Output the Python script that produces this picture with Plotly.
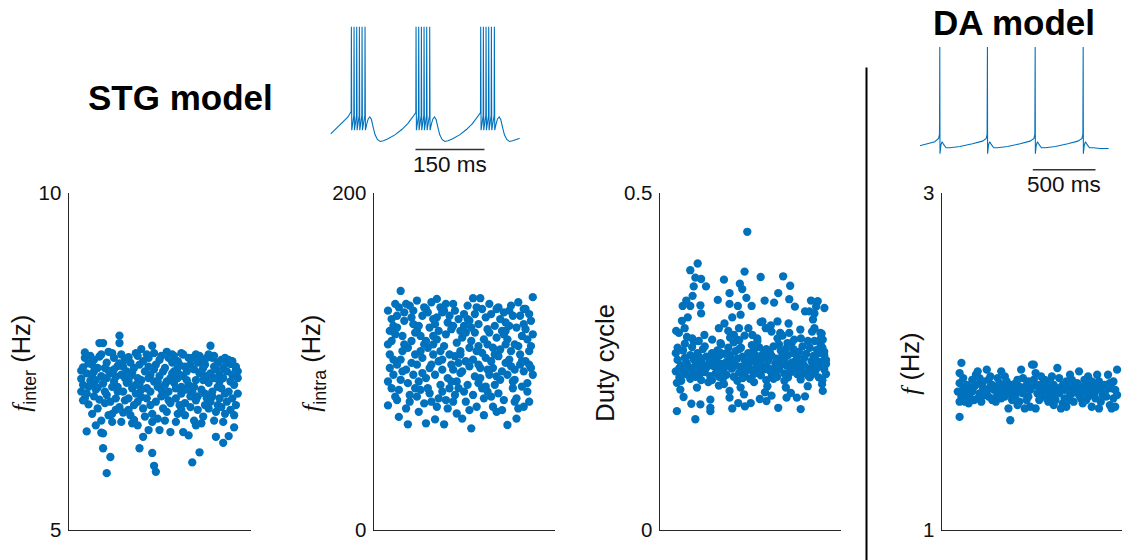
import plotly.graph_objects as go

W, H = 1130, 560

# ---------------- data ----------------
# STG model: inter-burst frequency (Hz)
stg_finter_pts = [
(0.07,7.24),(0.08,7.41),(0.07,7.05),(0.09,7.55),(0.10,7.32),(0.08,7.15),(0.11,7.47),(0.09,6.95),(0.12,7.21),(0.07,7.36),(0.10,7.02),(0.11,6.86),(0.10,6.46),(0.09,7.63),(0.12,7.58),(0.08,6.92),(0.11,7.12),
(0.13,7.30),(0.14,7.52),(0.15,7.08),(0.13,6.72),(0.16,7.40),(0.14,6.98),(0.15,7.22),(0.17,7.57),(0.16,6.80),(0.13,7.15),(0.17,7.77),(0.15,6.55),(0.14,7.35),(0.16,7.11),(0.17,6.93),(0.13,7.45),
(0.18,7.28),(0.19,6.43),(0.18,6.62),(0.19,7.77),(0.20,7.05),(0.21,7.48),(0.19,7.17),(0.21,5.84),(0.19,6.21),(0.22,7.36),(0.20,6.88),(0.18,7.60),(0.21,7.00),(0.22,6.70),(0.20,7.40),(0.18,6.44),(0.22,7.64),(0.21,7.25),
(0.23,6.08),(0.24,7.12),(0.25,7.55),(0.23,7.32),(0.26,6.95),(0.24,6.60),(0.25,7.20),(0.27,7.43),(0.26,6.78),(0.24,7.62),(0.23,6.90),(0.27,7.05),(0.25,7.38),(0.26,7.27),(0.24,6.72),
(0.28,7.88),(0.28,7.77),(0.29,7.30),(0.30,7.05),(0.31,7.52),(0.28,6.82),(0.29,6.60),(0.30,7.42),(0.32,7.18),(0.31,6.92),(0.29,7.60),(0.27,7.12),(0.30,6.74),(0.32,7.35),(0.31,7.25),(0.28,7.47),
(0.33,7.56),(0.34,6.70),(0.35,7.10),(0.33,6.95),(0.36,7.40),(0.34,7.28),(0.35,6.58),(0.37,7.62),(0.36,6.85),(0.33,7.20),(0.37,7.02),(0.34,7.48),(0.35,7.33),(0.36,6.63),(0.37,7.15),(0.33,6.78),
(0.38,7.25),(0.39,6.21),(0.38,6.55),(0.40,7.68),(0.41,6.38),(0.39,7.45),(0.40,7.08),(0.41,6.80),(0.42,7.35),(0.38,7.58),(0.40,6.97),(0.39,7.15),(0.41,7.50),(0.42,6.68),(0.40,7.22),(0.38,6.90),
(0.43,7.60),(0.44,6.48),(0.45,7.30),(0.46,6.14),(0.46,7.73),(0.43,7.10),(0.44,7.42),(0.45,6.85),(0.47,7.20),(0.46,6.60),(0.43,6.95),(0.44,7.55),(0.45,7.05),(0.47,7.38),(0.46,6.72),(0.44,7.25),
(0.47,5.95),(0.48,5.86),(0.48,7.45),(0.49,7.12),(0.50,6.48),(0.51,7.58),(0.48,6.90),(0.50,7.28),(0.49,6.65),(0.52,7.35),(0.51,6.98),(0.50,7.52),(0.49,7.20),(0.52,6.80),(0.47,7.62),(0.51,7.08),
(0.53,7.40),(0.54,7.64),(0.55,6.92),(0.56,6.45),(0.53,7.15),(0.55,7.55),(0.56,7.25),(0.54,6.75),(0.57,7.48),(0.53,6.62),(0.55,7.05),(0.57,7.32),(0.56,6.88),(0.54,7.20),(0.57,7.60),(0.53,7.00),
(0.58,7.58),(0.59,7.10),(0.60,6.72),(0.58,7.35),(0.61,7.45),(0.59,6.95),(0.60,7.25),(0.62,7.62),(0.61,6.85),(0.58,7.18),(0.62,7.02),(0.60,7.50),(0.59,6.60),(0.61,7.30),(0.62,6.78),(0.60,7.40),
(0.63,6.45),(0.64,7.42),(0.65,7.08),(0.66,6.40),(0.63,7.28),(0.64,6.88),(0.66,7.55),(0.65,7.35),(0.67,6.98),(0.63,7.60),(0.66,7.15),(0.64,6.70),(0.67,7.45),(0.65,7.22),(0.62,7.12),(0.67,6.82),
(0.68,6.00),(0.70,7.60),(0.69,7.38),(0.68,7.05),(0.70,6.92),(0.71,7.48),(0.69,6.62),(0.72,6.15),(0.70,7.22),(0.71,6.78),(0.72,7.32),(0.68,7.55),(0.69,7.12),(0.71,6.98),(0.72,7.58),(0.70,6.55),
(0.73,7.35),(0.74,7.52),(0.75,6.85),(0.73,7.08),(0.76,7.28),(0.74,6.68),(0.75,7.45),(0.77,7.60),(0.76,6.95),(0.73,6.58),(0.77,7.18),(0.74,7.40),(0.75,7.02),(0.76,7.55),(0.77,6.80),(0.74,7.22),
(0.78,7.73),(0.79,7.05),(0.80,7.42),(0.81,6.38),(0.78,6.90),(0.80,7.25),(0.79,7.55),(0.81,6.75),(0.82,7.48),(0.78,7.32),(0.80,6.62),(0.82,7.12),(0.79,6.98),(0.81,7.38),(0.80,7.58),(0.82,6.85),
(0.83,7.30),(0.84,7.52),(0.85,6.29),(0.86,6.72),(0.83,6.95),(0.85,7.40),(0.84,7.10),(0.86,7.55),(0.87,6.90),(0.85,6.60),(0.83,7.20),(0.87,7.35),(0.84,6.82),(0.86,7.02),(0.87,7.48),(0.85,7.25),
(0.88,6.39),(0.89,7.46),(0.91,6.52),(0.88,7.05),(0.90,7.30),(0.92,7.38),(0.89,6.78),(0.91,7.15),(0.93,7.25),(0.88,7.52),(0.90,6.95),(0.92,7.42),(0.93,7.02),(0.91,6.70),(0.89,7.20),(0.92,6.85),(0.90,7.50),(0.93,7.35),
]

# STG model: intra-burst frequency (Hz)
stg_fintra_pts = [
(0.08,73.8),(0.09,118),(0.08,130),(0.10,125),(0.09,104),(0.11,92),(0.08,110),(0.10,84),(0.12,134),(0.09,96),(0.11,121),(0.12,79),(0.10,112),(0.08,88),(0.13,127),(0.11,101),(0.12,116),
(0.14,67),(0.15,141.7),(0.13,77),(0.14,132),(0.16,106),(0.15,89),(0.17,124),(0.13,98),(0.16,115),(0.14,83),(0.17,129),(0.15,101),(0.18,72),(0.16,94),(0.17,110),(0.13,120),(0.18,134),
(0.19,62.6),(0.20,80),(0.21,126),(0.19,108),(0.22,92),(0.20,133),(0.21,99),(0.23,117),(0.19,87),(0.22,122),(0.20,76),(0.23,104),(0.21,112),(0.22,130),(0.18,95),(0.23,84),
(0.24,136),(0.25,70),(0.26,115),(0.24,98),(0.27,127),(0.25,88),(0.26,106),(0.28,132),(0.24,79),(0.27,93),(0.25,121),(0.28,110),(0.26,83),(0.27,102),(0.24,118),(0.28,75),
(0.29,63.2),(0.30,129),(0.31,96),(0.29,112),(0.32,135),(0.30,84),(0.31,120),(0.33,104),(0.29,90),(0.32,76),(0.30,108),(0.33,125),(0.31,81),(0.32,98),(0.29,131),(0.33,115),
(0.34,65.5),(0.35,137),(0.36,100),(0.34,122),(0.37,86),(0.35,113),(0.36,78),(0.38,129),(0.34,92),(0.37,106),(0.35,73),(0.36,118),(0.38,95),(0.37,132),(0.33,110),(0.38,82),(0.35,126),
(0.39,62.6),(0.40,116),(0.41,90),(0.39,130),(0.42,104),(0.40,77),(0.41,123),(0.43,98),(0.39,109),(0.42,84),(0.40,134),(0.43,119),(0.41,72),(0.42,127),(0.38,101),(0.43,88),
(0.44,134),(0.45,80),(0.46,111),(0.44,95),(0.47,125),(0.45,103),(0.46,88),(0.48,118),(0.44,76),(0.47,99),(0.45,130),(0.46,69),(0.48,106),(0.47,84),(0.44,121),(0.48,93),
(0.49,66),(0.50,128),(0.51,100),(0.49,114),(0.52,86),(0.50,121),(0.51,76),(0.53,108),(0.49,94),(0.52,133),(0.50,82),(0.51,117),(0.53,97),(0.52,125),(0.48,104),(0.53,71),
(0.54,60.2),(0.55,137.4),(0.56,91),(0.54,120),(0.57,106),(0.55,80),(0.56,128),(0.58,98),(0.54,112),(0.57,73),(0.55,101),(0.56,117),(0.58,87),(0.57,132),(0.53,124),(0.58,109),
(0.59,137.4),(0.60,84),(0.61,113),(0.59,96),(0.62,126),(0.60,105),(0.61,78),(0.63,119),(0.59,90),(0.62,102),(0.60,131),(0.61,68),(0.63,110),(0.62,85),(0.58,122),(0.63,95),
(0.64,134),(0.65,79),(0.66,108),(0.64,92),(0.67,121),(0.65,100),(0.66,73),(0.68,114),(0.64,117),(0.67,86),(0.65,128),(0.66,96),(0.68,131),(0.67,104),(0.63,82),(0.68,70),
(0.69,132),(0.70,89),(0.71,118),(0.69,103),(0.72,77),(0.70,125),(0.71,94),(0.73,110),(0.69,81),(0.72,129),(0.70,107),(0.71,71),(0.73,99),(0.72,116),(0.68,91),(0.73,123),
(0.74,62.2),(0.75,130),(0.76,97),(0.74,113),(0.77,84),(0.75,121),(0.76,106),(0.78,76),(0.74,92),(0.77,127),(0.75,101),(0.76,133),(0.78,110),(0.77,88),(0.73,118),(0.78,95),
(0.79,66),(0.80,135),(0.81,98),(0.79,120),(0.82,85),(0.80,109),(0.81,127),(0.83,94),(0.79,78),(0.82,115),(0.80,72),(0.81,104),(0.83,131),(0.82,100),(0.78,89),(0.83,122),
(0.84,119),(0.85,87),(0.86,106),(0.84,131),(0.87,96),(0.85,113),(0.86,76),(0.88,138),(0.84,100),(0.87,124),(0.85,82),(0.86,128),(0.88,92),(0.87,109),(0.83,73),(0.88,116),(0.86,98),
]

# STG model: duty cycle
stg_duty_pts = [
# upper scatter
(0.211,0.395),(0.170,0.385),(0.198,0.374),(0.230,0.372),(0.257,0.361),(0.189,0.361),(0.183,0.347),(0.148,0.340),
(0.128,0.332),(0.170,0.332),(0.226,0.333),(0.230,0.321),(0.156,0.315),(0.124,0.310),(0.139,0.299),(0.092,0.295),
(0.107,0.292),(0.152,0.286),(0.356,0.371),(0.444,0.365),(0.457,0.357),(0.470,0.383),(0.485,0.442),(0.559,0.375),
(0.683,0.376),(0.722,0.362),(0.656,0.351),(0.633,0.337),(0.581,0.340),(0.387,0.351),(0.322,0.341),(0.387,0.335),
(0.433,0.332),(0.480,0.344),(0.509,0.332),(0.717,0.342),(0.748,0.331),(0.837,0.340),(0.874,0.339),(0.911,0.329),
(0.804,0.324),(0.856,0.321),(0.848,0.312),(0.778,0.297),(0.713,0.306),(0.652,0.309),(0.615,0.303),(0.569,0.309),
(0.448,0.319),(0.402,0.315),(0.359,0.306),(0.328,0.299),(0.843,0.294),(0.889,0.292),(0.717,0.292),(0.680,0.288),
(0.491,0.299),(0.439,0.299),(0.865,0.331),(0.828,0.324),
# transition 0.275-0.31
(0.248,0.289),(0.291,0.282),(0.380,0.295),(0.411,0.289),(0.513,0.289),(0.559,0.308),(0.587,0.299),(0.619,0.294),
(0.667,0.292),(0.744,0.282),(0.781,0.284),(0.856,0.299),(0.896,0.291),(0.902,0.282),(0.856,0.280),(0.217,0.280),
(0.181,0.284),(0.652,0.284),(0.430,0.282),(0.541,0.280),(0.707,0.277),(0.337,0.277),
# lower scatter
(0.096,0.176),(0.198,0.164),(0.133,0.197),(0.176,0.187),(0.226,0.186),(0.281,0.193),(0.281,0.181),(0.281,0.176),
(0.402,0.180),(0.387,0.196),(0.387,0.206),(0.435,0.188),(0.472,0.183),(0.504,0.188),(0.554,0.194),(0.591,0.191),
(0.619,0.199),(0.656,0.181),(0.702,0.196),(0.726,0.203),(0.759,0.196),(0.804,0.198),(0.780,0.179),(0.583,0.204),
(0.467,0.201),(0.522,0.219),(0.328,0.214),(0.698,0.211),(0.898,0.216),(0.096,0.218),
(0.115,0.208),(0.356,0.216),(0.448,0.211),(0.596,0.213),(0.819,0.213),(0.902,0.206),(0.207,0.211),
# main band
(0.09,0.235),(0.10,0.252),(0.11,0.226),(0.09,0.262),(0.12,0.244),(0.13,0.231),(0.10,0.270),(0.14,0.255),(0.11,0.240),(0.12,0.221),(0.13,0.266),
(0.15,0.248),(0.16,0.229),(0.17,0.259),(0.15,0.236),(0.18,0.271),(0.16,0.242),(0.17,0.224),(0.19,0.253),(0.18,0.237),(0.14,0.276),(0.19,0.231),
(0.20,0.245),(0.21,0.262),(0.22,0.230),(0.20,0.227),(0.23,0.251),(0.21,0.239),(0.24,0.268),(0.22,0.256),(0.23,0.222),(0.19,0.279),(0.24,0.243),
(0.25,0.234),(0.26,0.257),(0.27,0.246),(0.25,0.272),(0.28,0.228),(0.26,0.241),(0.29,0.262),(0.27,0.219),(0.28,0.252),(0.24,0.237),(0.29,0.244),
(0.30,0.255),(0.31,0.232),(0.32,0.266),(0.30,0.243),(0.33,0.227),(0.31,0.249),(0.34,0.275),(0.32,0.238),(0.33,0.258),(0.29,0.222),(0.34,0.246),
(0.35,0.236),(0.36,0.261),(0.37,0.249),(0.35,0.224),(0.38,0.270),(0.36,0.241),(0.39,0.253),(0.37,0.230),(0.38,0.245),(0.34,0.262),(0.39,0.285),
(0.40,0.248),(0.41,0.227),(0.42,0.265),(0.40,0.239),(0.43,0.254),(0.41,0.278),(0.44,0.233),(0.42,0.244),(0.43,0.221),(0.39,0.259),(0.44,0.268),
(0.45,0.242),(0.46,0.257),(0.47,0.231),(0.45,0.270),(0.48,0.247),(0.46,0.225),(0.49,0.262),(0.47,0.252),(0.48,0.236),(0.44,0.281),(0.49,0.243),(0.47,0.288),
(0.50,0.253),(0.51,0.237),(0.52,0.266),(0.50,0.224),(0.53,0.248),(0.51,0.274),(0.54,0.240),(0.52,0.231),(0.53,0.259),(0.49,0.245),(0.54,0.284),
(0.55,0.246),(0.56,0.229),(0.57,0.260),(0.55,0.271),(0.58,0.238),(0.56,0.252),(0.59,0.222),(0.57,0.243),(0.58,0.265),(0.54,0.233),(0.59,0.256),
(0.60,0.240),(0.61,0.263),(0.62,0.228),(0.60,0.251),(0.63,0.272),(0.61,0.236),(0.64,0.247),(0.62,0.258),(0.63,0.224),(0.59,0.268),(0.64,0.233),
(0.65,0.254),(0.66,0.238),(0.67,0.266),(0.65,0.227),(0.68,0.246),(0.66,0.275),(0.69,0.232),(0.67,0.250),(0.68,0.261),(0.64,0.242),(0.69,0.221),
(0.70,0.244),(0.71,0.259),(0.72,0.233),(0.70,0.269),(0.73,0.248),(0.71,0.226),(0.74,0.262),(0.72,0.240),(0.73,0.277),(0.69,0.253),(0.74,0.236),
(0.75,0.250),(0.76,0.231),(0.77,0.264),(0.75,0.242),(0.78,0.223),(0.76,0.257),(0.79,0.272),(0.77,0.238),(0.78,0.247),(0.74,0.268),(0.79,0.232),
(0.80,0.243),(0.81,0.261),(0.82,0.229),(0.80,0.255),(0.83,0.270),(0.81,0.237),(0.84,0.250),(0.82,0.280),(0.83,0.226),(0.79,0.248),(0.84,0.241),
(0.85,0.258),(0.86,0.235),(0.87,0.267),(0.85,0.246),(0.88,0.226),(0.86,0.253),(0.89,0.275),(0.87,0.240),(0.88,0.262),(0.84,0.230),(0.89,0.249),
(0.90,0.244),(0.91,0.259),(0.92,0.231),(0.90,0.270),(0.91,0.238),(0.92,0.252),(0.90,0.222),(0.91,0.264),(0.92,0.246),(0.89,0.283),
]

# DA model: firing frequency (Hz)
da_f_pts = [
(0.09,1.82),(0.10,1.87),(0.11,1.79),(0.10,1.93),(0.12,1.84),(0.13,1.76),(0.11,1.99),(0.10,1.67),(0.10,1.76),(0.12,1.90),(0.13,1.81),(0.14,1.86),
(0.15,1.75),(0.16,1.83),(0.17,1.89),(0.15,1.80),(0.18,1.85),(0.16,1.78),(0.19,1.92),(0.17,1.82),(0.18,1.77),(0.19,1.86),
(0.20,1.94),(0.21,1.81),(0.22,1.87),(0.20,1.78),(0.23,1.84),(0.21,1.90),(0.24,1.80),(0.22,1.76),(0.23,1.88),(0.24,1.83),
(0.25,1.95),(0.26,1.79),(0.27,1.85),(0.25,1.82),(0.28,1.77),(0.26,1.89),(0.29,1.83),(0.27,1.91),(0.28,1.86),(0.29,1.78),
(0.30,1.84),(0.31,1.80),(0.32,1.87),(0.33,1.94),(0.30,1.76),(0.32,1.82),(0.33,1.78),(0.34,1.85),(0.31,1.90),(0.34,1.81),
(0.35,1.79),(0.36,1.83),(0.37,1.72),(0.38,1.65),(0.36,1.88),(0.37,1.81),(0.38,1.86),(0.35,1.91),(0.39,1.77),(0.39,1.84),
(0.40,1.82),(0.41,1.87),(0.42,1.74),(0.40,1.78),(0.43,1.85),(0.41,1.80),(0.44,1.95),(0.42,1.89),(0.43,1.76),(0.44,1.83),
(0.45,1.81),(0.46,1.72),(0.47,1.86),(0.45,1.90),(0.48,1.79),(0.46,1.84),(0.49,1.73),(0.47,1.77),(0.48,1.88),(0.49,1.83),
(0.50,1.98),(0.51,1.98),(0.52,1.72),(0.50,1.85),(0.53,1.81),(0.51,1.89),(0.54,1.77),(0.52,1.93),(0.53,1.86),(0.54,1.84),
(0.55,1.80),(0.56,1.87),(0.57,1.83),(0.55,1.91),(0.58,1.78),(0.56,1.85),(0.59,1.82),(0.57,1.89),(0.58,1.86),(0.59,1.76),
(0.60,1.84),(0.61,1.79),(0.62,1.74),(0.64,1.96),(0.60,1.88),(0.63,1.82),(0.61,1.91),(0.62,1.86),(0.63,1.77),(0.64,1.84),
(0.65,1.81),(0.66,1.72),(0.67,1.86),(0.65,1.90),(0.68,1.78),(0.66,1.84),(0.69,1.88),(0.67,1.75),(0.68,1.83),(0.69,1.73),
(0.70,1.85),(0.71,1.80),(0.72,1.89),(0.70,1.77),(0.73,1.83),(0.71,1.92),(0.74,1.86),(0.72,1.81),(0.73,1.76),(0.74,1.84),
(0.75,1.82),(0.76,1.94),(0.77,1.78),(0.75,1.87),(0.78,1.84),(0.76,1.80),(0.79,1.89),(0.77,1.85),(0.78,1.75),(0.79,1.82),
(0.80,1.86),(0.81,1.79),(0.82,1.83),(0.80,1.77),(0.83,1.88),(0.81,1.91),(0.84,1.81),(0.82,1.85),(0.83,1.73),(0.84,1.87),
(0.85,1.82),(0.86,1.92),(0.87,1.72),(0.85,1.78),(0.88,1.85),(0.86,1.84),(0.89,1.80),(0.87,1.88),(0.88,1.76),(0.89,1.83),
(0.90,1.86),(0.91,1.79),(0.92,1.92),(0.93,1.74),(0.94,1.84),(0.95,1.88),(0.96,1.73),(0.97,1.95),(0.95,1.78),(0.96,1.83),(0.97,1.80),(0.93,1.87),(0.91,1.83),(0.94,1.72),
]

# STG example voltage trace (ms, mV)
stg_trace = [
(0,-61),(20,-54.5),(38,-48),(44,-44.5),
(44.9,-44),(45.4,20),(46.2,-58),(50.7,-47),(51.2,20),(52.0,-58),(56.5,-47),(57.0,20),(57.8,-58),
(62.3,-47),(62.8,20),(63.6,-58),(68.1,-47),(68.6,20),(69.4,-58),(74.6,-47),(75.1,20),(75.9,-58),
(79,-53),(82,-49.5),(85.5,-48),(89,-50),(93,-56),(97,-61.5),(102,-65),(108,-66.5),(115,-66),(125,-64.5),
(140,-61.5),(155,-57.5),(168,-53),(178,-48.5),(185,-45),
(185.5,-44),(186.0,20),(186.8,-58),(191.3,-47),(191.8,20),(192.6,-58),(197.1,-47),(197.6,20),(198.4,-58),
(202.9,-47),(203.4,20),(204.2,-58),(208.7,-47),(209.2,20),(210.0,-58),(215.2,-47),(215.7,20),(216.5,-58),
(219.6,-53),(222.6,-49.5),(226.1,-48),(229.6,-50),(233.6,-56),(237.6,-61.5),(242.6,-65),(248.6,-66.5),(255.6,-66),(265.6,-64.5),
(280.6,-61.5),(295.6,-57.5),(308.6,-53),(318.6,-48.5),(325.6,-45),
(326.1,-44),(326.6,20),(327.4,-58),(331.9,-47),(332.4,20),(333.2,-58),(337.7,-47),(338.2,20),(339.0,-58),
(343.5,-47),(344.0,20),(344.8,-58),(349.3,-47),(349.8,20),(350.6,-58),(355.8,-47),(356.3,20),(357.1,-58),
(360.2,-53),(363.2,-49.5),(366.7,-48),(370.2,-50),(374.2,-56),(378.2,-61.5),(383.2,-65),(389.2,-66.5),(396,-66),(404,-65),(411.6,-64),
]
stg_scalebar_ms = [184.8, 334.8]
stg_scalebar_label = "150 ms"

# DA example voltage trace (ms, mV)
da_trace = [
(0,-54.5),(60,-53),(120,-51.5),(150,-49),(157,-46),(159.5,20),(161,-60.5),(168,-54),(178,-51.5),(190,-53.5),(210,-56),(240,-56),
(320,-55),(420,-53),(500,-51),(530,-49),(537,-46),(539.5,20),(541,-60.5),(548,-54),(558,-51.5),(570,-53.5),(590,-56),(620,-56),
(700,-55),(800,-53),(880,-51),(911,-49),(918,-46),(920.5,20),(922,-60.5),(929,-54),(939,-51.5),(951,-53.5),(971,-56),(1001,-56),
(1081,-55),(1181,-53),(1261,-51),(1294,-49),(1301,-46),(1303.5,20),(1305,-60.5),(1312,-54),(1322,-51.5),(1334,-53.5),(1354,-56),(1384,-56),
(1440,-56.5),(1508,-56.5),
]
da_scalebar_ms = [901.7, 1401.8]
da_scalebar_label = "500 ms"

panel_ylims = [(5, 10), (0, 200), (0, 0.5), (1, 3)]
panel_ticklabels = [("5", "10"), ("0", "200"), ("0", "0.5"), ("1", "3")]
panel_ylabels = [
    "<span style=\"font-family:'Liberation Serif'\"><i>f</i></span><sub>inter</sub> (Hz)",
    "<span style=\"font-family:'Liberation Serif'\"><i>f</i></span><sub>intra</sub> (Hz)",
    "Duty cycle",
    "<span style=\"font-family:'Liberation Serif'\"><i>f</i></span> (Hz)",
]
titles = ["STG model", "DA model"]

# ---------------- layout helpers ----------------
BLUE = "#0072BD"
AX = "#262626"
FONT = "Liberation Sans, Arial, sans-serif"

# the page photo shifts content right by ~7.5 px and maps y -> 17.3 + 0.963*y;
# positions below are given in target-picture pixels and compensated here
DX, DY, SY = 7.5, 17.3, 0.963

def px(x):
    return (x - DX) / W

def py(y):
    return 1 - ((y - DY) / SY) / H

panel_xpix = [(68, 250), (373, 554), (659, 840), (941, 1122)]
panel_ypix = (190.7, 529.3)
label_pos = [(23, 362), (313, 362), (605, 362), (910, 363)]

fig = go.Figure()
layout = dict(
    width=W, height=H, margin=dict(l=0, r=0, t=0, b=0),
    paper_bgcolor="white", plot_bgcolor="white", showlegend=False,
    font=dict(family=FONT, color=AX),
)
annotations = []
shapes = []

all_pts = [stg_finter_pts, stg_fintra_pts, stg_duty_pts, da_f_pts]
for i, pts in enumerate(all_pts):
    n = i + 1
    xs = [p[0] for p in pts]
    ys = [p[1] for p in pts]
    fig.add_trace(go.Scatter(
        x=xs, y=ys, mode="markers", xaxis=f"x{n}", yaxis=f"y{n}",
        marker=dict(size=8.3, color=BLUE, line=dict(width=0)),
        hoverinfo="skip",
    ))
    x0, x1 = panel_xpix[i]
    lo, hi = panel_ylims[i]
    layout[f"xaxis{n}"] = dict(
        domain=[px(x0), px(x1)], range=[0, 1], anchor=f"y{n}",
        showline=True, linecolor=AX, linewidth=1, showgrid=False, zeroline=False,
        ticks="", showticklabels=False, fixedrange=True,
    )
    layout[f"yaxis{n}"] = dict(
        domain=[py(panel_ypix[1]), py(panel_ypix[0])], range=[lo, hi], anchor=f"x{n}",
        showline=True, linecolor=AX, linewidth=1, showgrid=False, zeroline=False,
        ticks="inside", ticklen=4, tickwidth=1, tickcolor=AX,
        tickvals=[lo, hi], ticktext=list(panel_ticklabels[i]),
        tickfont=dict(size=20.5, color="#111111", family=FONT), ticklabelstandoff=2,
        fixedrange=True,
    )
    lx, ly = label_pos[i]
    annotations.append(dict(
        x=px(lx), y=py(ly), xref="paper", yref="paper", text=panel_ylabels[i],
        textangle=-90, showarrow=False, xanchor="center", yanchor="middle",
        font=dict(size=25.5, color="#111111", family=FONT),
    ))

# voltage traces
trace_defs = [
    (5, stg_trace, stg_scalebar_ms, stg_scalebar_label, (330, 519.3), (21.33, 157.3), 411.6, (449.2, 162.5)),
    (6, da_trace, da_scalebar_ms, da_scalebar_label, (919.3, 1108.3), (41.63, 177.6), 1508, (1063.8, 183)),
]
for n, tr, sb, sbl, xpix, ypix, tmax, labxy in trace_defs:
    fig.add_trace(go.Scatter(
        x=[p[0] for p in tr], y=[p[1] for p in tr], mode="lines",
        xaxis=f"x{n}", yaxis=f"y{n}", line=dict(color=BLUE, width=1.1),
        hoverinfo="skip",
    ))
    fig.add_trace(go.Scatter(
        x=sb, y=[-72.6, -72.6], mode="lines", xaxis=f"x{n}", yaxis=f"y{n}",
        line=dict(color="#333333", width=1.5), hoverinfo="skip",
    ))
    layout[f"xaxis{n}"] = dict(domain=[px(xpix[0]), px(xpix[1])], range=[0, tmax],
                               visible=False, anchor=f"y{n}", fixedrange=True)
    layout[f"yaxis{n}"] = dict(domain=[py(ypix[1]), py(ypix[0])], range=[-80, 22],
                               visible=False, anchor=f"x{n}", fixedrange=True)
    annotations.append(dict(
        x=px(labxy[0]), y=py(labxy[1]), xref="paper", yref="paper", text=sbl,
        showarrow=False, xanchor="center", yanchor="middle",
        font=dict(size=22.5, color="#111111", family=FONT),
    ))

# titles
annotations.append(dict(x=px(179.5), y=py(95), xref="paper", yref="paper",
                        text=f"<b>{titles[0]}</b>", showarrow=False,
                        xanchor="center", yanchor="middle",
                        font=dict(size=35, color="black", family=FONT)))
annotations.append(dict(x=px(1013.8), y=py(20), xref="paper", yref="paper",
                        text=f"<b>{titles[1]}</b>", showarrow=False,
                        xanchor="center", yanchor="middle",
                        font=dict(size=35, color="black", family=FONT)))

# divider
shapes.append(dict(type="line", xref="paper", yref="paper",
                   x0=px(866), x1=px(866), y0=py(65), y1=py(560),
                   line=dict(color="black", width=2)))

layout["annotations"] = annotations
layout["shapes"] = shapes
fig.update_layout(**layout)
fig.write_html("out.html")
